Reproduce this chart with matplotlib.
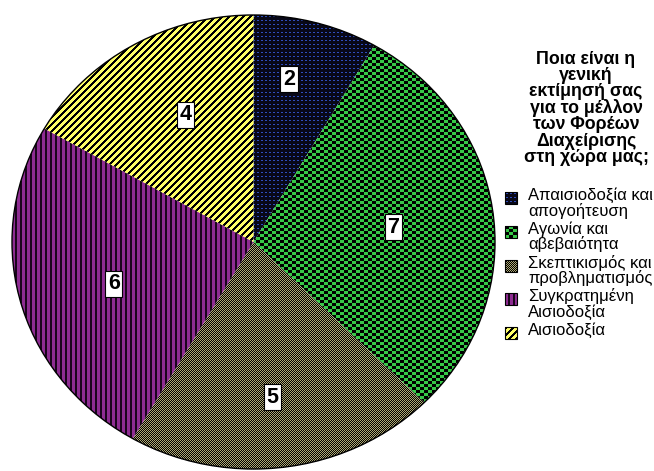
#! /usr/bin/python

"""
Pie chart of the answers to the question about the future of the
management bodies (Φορείς Διαχείρισης), with Excel-like fill patterns.
"""

import numpy as np
import matplotlib
matplotlib.use("Agg")
from matplotlib import pyplot as plt
from matplotlib.colors import to_rgb
from matplotlib.patches import Circle, Rectangle

categories = [
    "Απαισιοδοξία και\nαπογοήτευση",
    "Αγωνία και\nαβεβαιότητα",
    "Σκεπτικισμός και\nπροβληματισμός",
    "Συγκρατημένη\nΑισιοδοξία",
    "Αισιοδοξία",
]
counts = [2, 7, 5, 6, 4]
title_lines = [
    "Ποια είναι η",
    "γενική",
    "εκτίμησή σας",
    "για το μέλλον",
    "των Φορέων",
    "Διαχείρισης",
    "στη χώρα μας;",
]

W, H = 654, 471
PIE_BOX = (12, 2, 483, 454)  # left, bottom, width, height in pixels
kinds = ["dots", "checker", "fine", "vstripes", "diag"]
# label centres, in pie units (x right, y up)
label_pos = [(0.147, 0.718), (0.578, 0.066), (0.077, -0.683),
             (-0.578, -0.185), (-0.28, 0.56)]


def tile(kind):
    if kind == "dots":
        t = np.zeros((4, 4), int)
        t[1, 1:3] = 1
        cols = ["#080818", "#2e4cbc"]
    elif kind == "checker":
        r = np.arange(6) // 3
        c = np.arange(8) // 4
        t = (np.add.outer(r, c) % 2).astype(int)
        cols = ["#000000", "#36c846"]
    elif kind == "fine":
        t = (np.add.outer(np.arange(2), np.arange(2)) % 2).astype(int)
        cols = ["#000000", "#b0aa74"]
    elif kind == "vstripes":
        t = np.array([[1, 1, 1, 0, 0]])
        cols = ["#1a051c", "#8e2c92"]
    else:
        t = (np.add.outer(np.arange(7), np.arange(7)) % 7 >= 3).astype(int)
        cols = ["#000000", "#ffff66"]
    return t, cols


def pattern(kind, h, w):
    t, cols = tile(kind)
    reps = (h // t.shape[0] + 1, w // t.shape[1] + 1)
    idx = np.tile(t, reps)[:h, :w]
    pal = np.array([to_rgb(c) for c in cols])
    return pal[idx]


def draw_pie(fig):
    left, bottom, width, height = PIE_BOX
    ax = fig.add_axes([left / W, bottom / H, width / W, height / H])
    wedges, _ = ax.pie(counts, startangle=90, counterclock=False,
                       wedgeprops=dict(linewidth=0, facecolor="none"))
    for w, kind in zip(wedges, kinds):
        im = ax.imshow(pattern(kind, height, width), extent=(-1, 1, -1, 1),
                       origin="upper", interpolation="nearest", aspect="auto")
        im.set_clip_path(w)
    ax.add_patch(Circle((0, 0), 1, fill=False, ec="black", lw=1.0,
                        clip_on=False))
    for (x, y), n in zip(label_pos, counts):
        ax.text(x, y, str(n), ha="center", va="center", fontsize=15.5,
                fontweight="bold", family="Liberation Sans",
                bbox=dict(boxstyle="square,pad=0.12", fc="white",
                          ec="black", lw=0.8))
    ax.set_aspect("auto")
    ax.set_xlim(-1, 1)
    ax.set_ylim(-1, 1)
    ax.axis("off")


def draw_legend(fig):
    lax = fig.add_axes([0, 0, 1, 1])
    for i, line in enumerate(title_lines):
        lax.text(586, 63.5 + i * 16.4, line, ha="center", va="baseline",
                 fontsize=12.8, fontweight="bold", family="Liberation Sans")

    base = 200
    for label, kind in zip(categories, kinds):
        top = base - 8
        lax.add_patch(Rectangle((506, top + 1), 12, 12, fc="#a0a0a0",
                                ec="none", zorder=0))
        lax.imshow(pattern(kind, 12, 12), extent=(505, 517, top + 12, top),
                   origin="upper", interpolation="nearest", aspect="auto",
                   zorder=1)
        lax.add_patch(Rectangle((505, top), 12, 12, fill=False,
                                ec="black", lw=0.8, zorder=2))
        for j, line in enumerate(label.split("\n")):
            lax.text(528, base + j * 15.7, line, ha="left", va="baseline",
                     fontsize=12, family="Liberation Sans")
        base += 33.8

    lax.set_xlim(0, W)
    lax.set_ylim(H, 0)
    lax.axis("off")


def main():
    fig = plt.figure(figsize=(W / 100, H / 100), dpi=100)
    draw_pie(fig)
    draw_legend(fig)
    fig.savefig("out.png", dpi=100)


if __name__ == "__main__":
    main()
